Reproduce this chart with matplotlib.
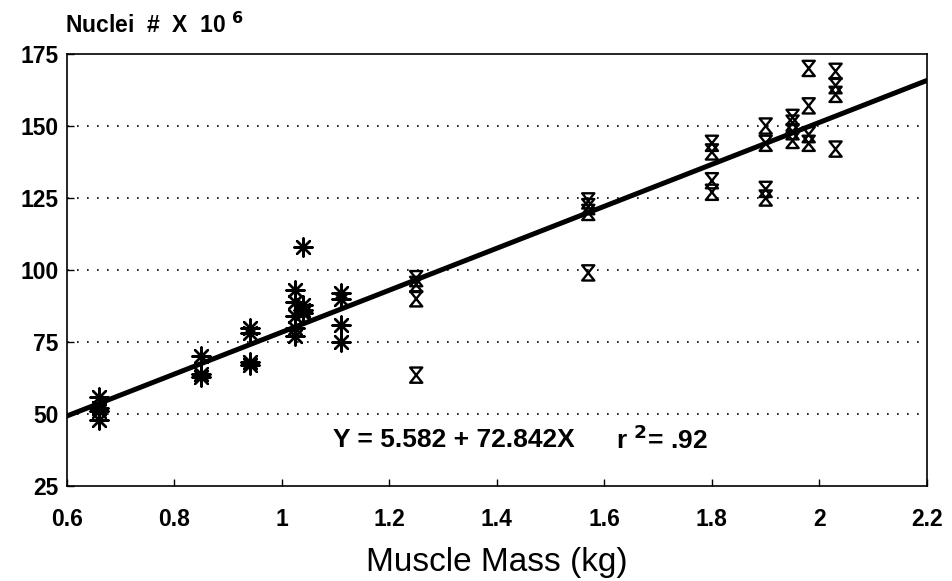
import matplotlib
matplotlib.use("Agg")
import matplotlib.pyplot as plt
import numpy as np
from matplotlib.path import Path

# Group 1 (asterisks)
g1_x = [0.66, 0.66, 0.66, 0.66,
        0.85, 0.85, 0.85,
        0.94, 0.94, 0.94, 0.94,
        1.025, 1.025, 1.025, 1.025, 1.025,
        1.04, 1.04, 1.04, 1.04,
        1.11, 1.11, 1.11, 1.11]
g1_y = [56, 52, 51, 48,
        70, 64, 63,
        80, 78, 68, 67,
        93, 89, 84, 80, 77,
        108, 88, 86, 85,
        92, 90, 81, 75]

# Group 2 (hourglasses)
g2_x = [1.25, 1.25, 1.25, 1.25,
        1.57, 1.57, 1.57, 1.57,
        1.80, 1.80, 1.80, 1.80,
        1.90, 1.90, 1.90, 1.90,
        1.95, 1.95, 1.95, 1.95,
        1.98, 1.98, 1.98, 1.98,
        2.03, 2.03, 2.03, 2.03]
g2_y = [97, 95, 90, 63.5,
        124, 122, 120, 99,
        144, 141, 131, 127,
        150, 144, 128, 125,
        153, 151, 148, 145,
        170, 157, 147, 144,
        169, 164, 161, 142]

intercept = 5.582
slope = 72.842
r2_text = ".92"

x_ticks = [0.6, 0.8, 1.0, 1.2, 1.4, 1.6, 1.8, 2.0, 2.2]
x_tick_labels = ["0.6", "0.8", "1", "1.2", "1.4", "1.6", "1.8", "2", "2.2"]
y_ticks = [25, 50, 75, 100, 125, 150, 175]
grid_levels = [50, 75, 100, 125, 150]

plt.rcParams['font.family'] = ['Liberation Sans', 'DejaVu Sans']

fig = plt.figure(figsize=(9.53, 5.81), dpi=100)
ax = fig.add_axes([0.070, 0.1635, 0.9027, 0.7435])

ax.set_xlim(0.6, 2.2)
ax.set_ylim(25, 175)

for g in grid_levels:
    ax.axhline(g, color='black', linestyle=(0, (1, 5)), linewidth=1.2, zorder=1)

hourglass = Path([(-0.8, 1), (0.8, 1), (-0.8, -1), (0.8, -1), (-0.8, 1)],
                 [Path.MOVETO, Path.LINETO, Path.LINETO, Path.LINETO, Path.CLOSEPOLY])

ax.scatter(g1_x, g1_y, marker=(8, 2, 0), s=170, color='black', linewidths=1.7, zorder=3)
ax.scatter(g2_x, g2_y, marker=hourglass, s=120, facecolors='none', edgecolors='black',
           linewidths=1.7, zorder=3)

xl = np.array([0.6, 2.2])
ax.plot(xl, intercept + slope * xl, color='black', linewidth=3.6, zorder=4,
        solid_capstyle='round')

ax.text(1.095, 41, "Y = 5.582 + 72.842X", fontsize=19, fontweight='bold', va='center')
ax.text(1.622, 41, r"r $^{\mathbf{2}}$= " + r2_text, fontsize=19, fontweight='bold', va='center')

ax.set_xticks(x_ticks)
ax.set_xticklabels(x_tick_labels)
ax.set_yticks(y_ticks)
ax.tick_params(axis='both', direction='in', length=5, width=1, labelsize=16.5)
ax.tick_params(axis='x', pad=16)
ax.tick_params(axis='y', pad=6)
for lab in ax.get_xticklabels() + ax.get_yticklabels():
    lab.set_fontweight('bold')

for sp in ax.spines.values():
    sp.set_linewidth(1.2)

ax.set_xlabel("Muscle Mass (kg)", fontsize=24, labelpad=11)
fig.text(0.068, 0.935, r"Nuclei  #  X  10 $^{\mathbf{6}}$", fontsize=16.5, fontweight='bold',
         ha='left', va='bottom')

fig.savefig("out.png", dpi=100)
